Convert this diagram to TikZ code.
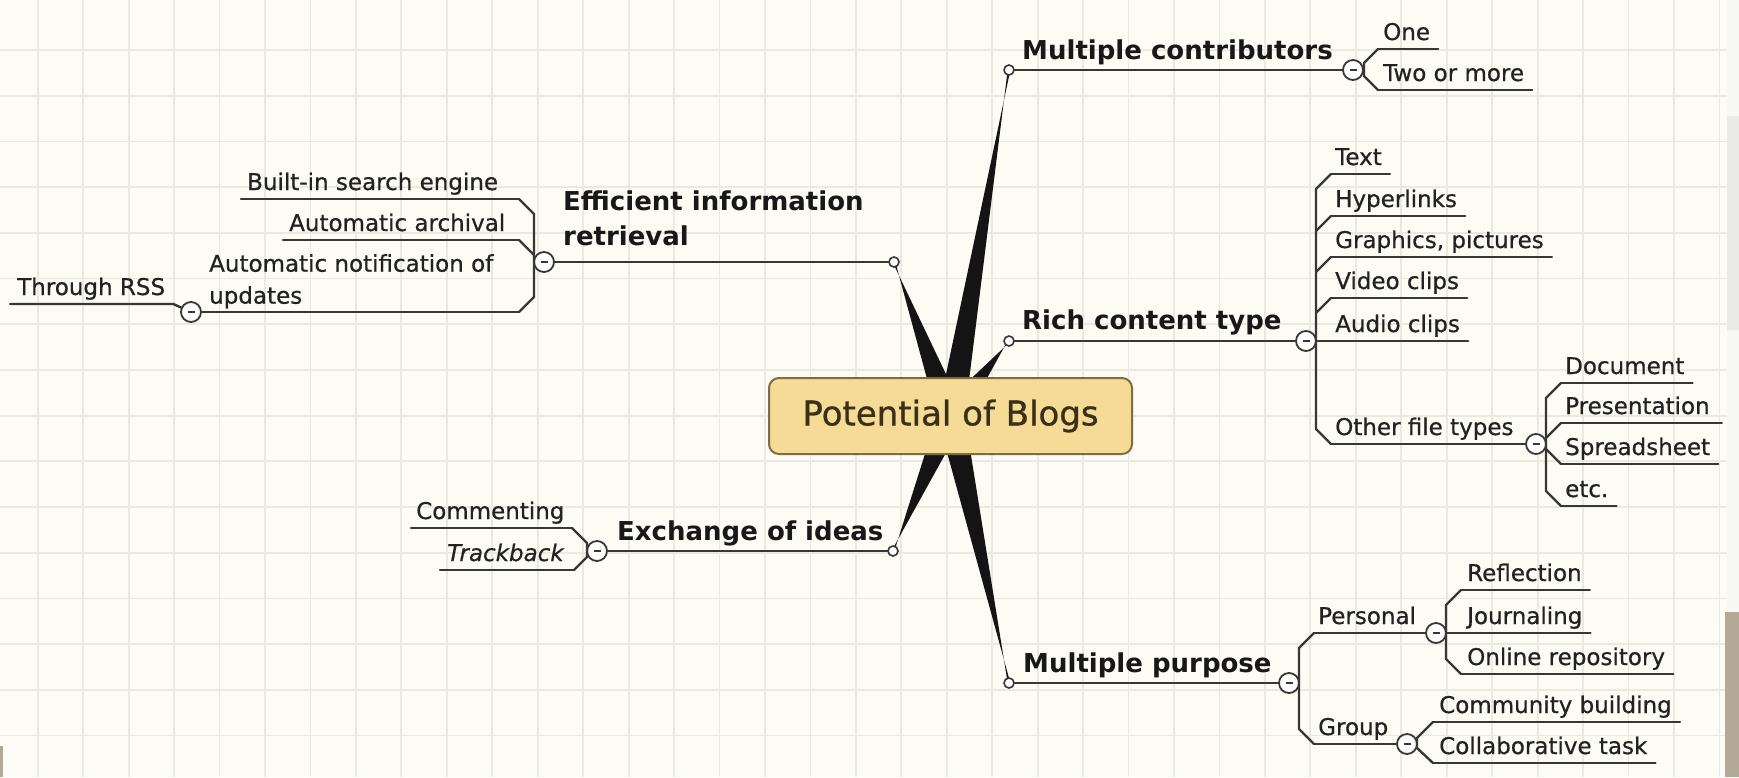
\documentclass[tikz,border=0pt]{standalone}
\usepackage{fontspec}
\setmainfont{DejaVu Sans}
\newfontfamily\leaffont[FakeBold=0.6]{DejaVu Sans}
\newfontfamily\rootfont[FakeBold=0.9]{DejaVu Sans}
\usetikzlibrary{calc}
\definecolor{bgc}{RGB}{252,251,244}
\definecolor{gridc}{RGB}{234,233,225}
\definecolor{linec}{RGB}{55,55,53}
\definecolor{txtc}{RGB}{24,24,24}
\definecolor{leafc}{RGB}{34,34,34}
\definecolor{boxfill}{RGB}{246,219,150}
\definecolor{boxdraw}{RGB}{125,108,70}
\definecolor{boxtxt}{RGB}{58,48,26}
\definecolor{taupe}{RGB}{180,168,150}
\definecolor{edgec}{RGB}{247,247,245}
\definecolor{edgecb}{RGB}{234,234,232}
\begin{document}
\begin{tikzpicture}[x=1pt,y=-1pt,
  conn/.style={draw=linec, line width=2.4pt, line join=round, line cap=round},
  wedge/.style={fill=black!92},
  dot/.style={circle, draw=linec, fill=white, line width=1.6pt, minimum size=10pt, inner sep=0pt},
  fold/.style={circle, draw=linec, fill=white, line width=1.8pt, minimum size=20pt, inner sep=0pt,
    path picture={\draw[linec, line width=1.8pt] ([xshift=-3.5pt]path picture bounding box.center) -- ([xshift=3.5pt]path picture bounding box.center);}},
  titlenode/.style={font=\fontsize{26}{35}\selectfont\bfseries, text=txtc, inner sep=0pt, anchor=base west},
  leaf/.style={font=\leaffont\fontsize{23}{32}\selectfont, text=leafc, inner sep=0pt, anchor=base west},
]
\useasboundingbox (0,0) rectangle (1739,777);
\fill[bgc] (0,0) rectangle (1739,777);
\foreach \i in {1,...,38} \draw[gridc, line width=1.8pt] ({-7.7+45.45*\i},0) -- ({-7.7+45.45*\i},777);
\foreach \j in {1,...,16} \draw[gridc, line width=1.8pt] (0,{4.3+45.7*\j}) -- (1727,{4.3+45.7*\j});

% wedges
\coordinate (ctr) at (951,416);
\coordinate (pMC) at (1009,70);
\coordinate (pRC) at (1009,341);
\coordinate (pEI) at (894,262);
\coordinate (pEX) at (893,551);
\coordinate (pMP) at (1009,683);
\foreach \t in {pMC,pRC,pEI,pEX,pMP}
  \fill[wedge] ($(ctr)!13.5pt!90:(\t)$) -- ($(\t)!1.3pt!90:(ctr)$) -- ($(\t)!1.3pt!-90:(ctr)$) -- ($(ctr)!13.5pt!-90:(\t)$) -- cycle;

\node[draw=boxdraw, fill=boxfill, line width=2pt, rounded corners=10pt, minimum width=363pt, minimum height=76pt, inner sep=0pt, font=\rootfont\fontsize{34}{40}\selectfont, text=boxtxt] (root) at (950.5,416) {Potential of Blogs};

\node[dot] (dMC) at (pMC) {};
\node[dot] (dRC) at (pRC) {};
\node[dot] (dEI) at (pEI) {};
\node[dot] (dEX) at (pEX) {};
\node[dot] (dMP) at (pMP) {};

% Multiple contributors
\node[titlenode] (tMC) at (1022,59.5) {Multiple contributors};
\node[fold] (fMC) at (1353,70) {};
\draw[conn] (dMC) -- (fMC);
\node[leaf] (lOne) at (1383,40) {One};
\node[leaf] (lTwo) at (1383,81) {Two or more};
\coordinate (uOne) at (1378,49);
\coordinate (uTwo) at (1378,90);
\draw[conn] (uOne) -- ($(lOne.east |- uOne)+(8,0)$);
\draw[conn] (uTwo) -- ($(lTwo.east |- uTwo)+(8,0)$);
\draw[conn] (uOne) -- (1364,63) -- (1364,76) -- (uTwo);

% Rich content type
\node[titlenode] (tRC) at (1022,329) {Rich content type};
\node[fold] (fRC) at (1306,341) {};
\draw[conn] (dRC) -- (fRC);
\node[leaf] (lTxt) at (1335,165) {Text};
\node[leaf] (lHyp) at (1335,207) {Hyperlinks};
\node[leaf] (lGra) at (1335,248) {Graphics, pictures};
\node[leaf] (lVid) at (1335,289) {Video clips};
\node[leaf] (lAud) at (1335,332) {Audio clips};
\node[leaf] (lOth) at (1335,435) {Other file types};
\coordinate (uTxt) at (1331,174);
\coordinate (uHyp) at (1331,216);
\coordinate (uGra) at (1331,257);
\coordinate (uVid) at (1331,298);
\coordinate (uAud) at (1331,341);
\coordinate (uOth) at (1331,444);
\foreach \n in {Txt,Hyp,Gra,Vid,Aud}
  \draw[conn] (u\n) -- ($(l\n.east |- u\n)+(8,0)$);
\draw[conn] (uTxt) -- (1316,189) -- (1316,429) -- (uOth);
\draw[conn] (uHyp) -- (1316,231);
\draw[conn] (uGra) -- (1316,272);
\draw[conn] (uVid) -- (1316,313);
\draw[conn] (fRC) -- (uAud);
\node[fold] (fOF) at (1536,444) {};
\draw[conn] (uOth) -- (fOF);
\node[leaf] (lDoc) at (1565,374) {Document};
\node[leaf] (lPre) at (1565,414) {Presentation};
\node[leaf] (lSpr) at (1565,455) {Spreadsheet};
\node[leaf] (lEtc) at (1565,497) {etc.};
\coordinate (uDoc) at (1561,383);
\coordinate (uPre) at (1561,423);
\coordinate (uSpr) at (1561,464);
\coordinate (uEtc) at (1561,506);
\foreach \n in {Doc,Spr,Etc}
  \draw[conn] (u\n) -- ($(l\n.east |- u\n)+(8,0)$);
\draw[conn] (uPre) -- ($(lPre.east |- uPre)+(12,0)$);
\draw[conn] (uDoc) -- (1546,398) -- (1546,491) -- (uEtc);
\draw[conn] (uPre) -- (1546,438);
\draw[conn] (uSpr) -- (1546,449);

% Multiple purpose
\node[titlenode] (tMP) at (1023,672) {Multiple purpose};
\node[fold] (fMP) at (1289,683) {};
\draw[conn] (dMP) -- (fMP);
\node[leaf] (lPer) at (1318,624) {Personal};
\node[leaf] (lGro) at (1318,735) {Group};
\coordinate (uPer) at (1314,633);
\coordinate (uGro) at (1314,744);
\node[fold] (fPe) at (1436,633) {};
\node[fold] (fGr) at (1407,744) {};
\draw[conn] (uPer) -- (fPe);
\draw[conn] (uGro) -- (fGr);
\draw[conn] (uPer) -- (1299,648) -- (1299,729) -- (uGro);
\node[leaf] (lRef) at (1467,581) {Reflection};
\node[leaf] (lJou) at (1467,624) {Journaling};
\node[leaf] (lOnl) at (1467,665) {Online repository};
\coordinate (uRef) at (1461,590);
\coordinate (uJou) at (1461,633);
\coordinate (uOnl) at (1461,674);
\foreach \n in {Ref,Jou,Onl}
  \draw[conn] (u\n) -- ($(l\n.east |- u\n)+(8,0)$);
\draw[conn] (uRef) -- (1446,605) -- (1446,659) -- (uOnl);
\draw[conn] (fPe) -- (uJou);
\node[leaf] (lCom) at (1439,713) {Community building};
\node[leaf] (lCol) at (1439,754) {Collaborative task};
\coordinate (uCom) at (1433,722);
\coordinate (uCol) at (1433,763);
\foreach \n in {Com,Col}
  \draw[conn] (u\n) -- ($(l\n.east |- u\n)+(8,0)$);
\draw[conn] (uCom) -- (1417,738) -- (1417,748) -- (uCol);

% Efficient information retrieval
\node[titlenode, anchor=north west, align=left] (tEI) at (563,191) {Efficient information\\retrieval};
\node[fold] (fEI) at (544,262) {};
\draw[conn] (dEI) -- (fEI);
\node[leaf] (lBui) at (247,190) {Built-in search engine};
\node[leaf] (lArc) at (289,231) {Automatic archival};
\node[leaf, anchor=north west, align=left] (lNot) at (209,254) {Automatic notification of\\updates};
\coordinate (uBui) at (519,199);
\coordinate (uArc) at (519,240);
\coordinate (uNot) at (519,312);
\draw[conn] ($(lBui.west |- uBui)+(-6,0)$) -- (uBui);
\draw[conn] ($(lArc.west |- uArc)+(-6,0)$) -- (uArc);
\node[fold] (fNo) at (191,312) {};
\draw[conn] (fNo) -- (uNot);
\draw[conn] (uBui) -- (534,214) -- (534,297) -- (uNot);
\draw[conn] (uArc) -- (534,255);
\node[leaf] (lRSS) at (17,295) {Through RSS};
\coordinate (uRSS) at (10,304);
\draw[conn] (uRSS) -- ($(lRSS.east |- uRSS)+(8,0)$) -- (fNo);

% Exchange of ideas
\node[titlenode] (tEX) at (617,540) {Exchange of ideas};
\node[fold] (fEX) at (597,551) {};
\draw[conn] (dEX) -- (fEX);
\node[leaf] (lCmt) at (416,519) {Commenting};
\node[leaf, font=\leaffont\fontsize{23}{32}\selectfont\itshape] (lTra) at (447,561) {Trackback};
\coordinate (uCmt) at (572,528);
\coordinate (uTra) at (574,570);
\draw[conn] ($(lCmt.west |- uCmt)+(-5,0)$) -- (uCmt);
\draw[conn] ($(lTra.west |- uTra)+(-7,0)$) -- (uTra);
\draw[conn] (uCmt) -- (587,543) -- (587,557) -- (uTra);

% screenshot edges
\fill[edgec] (1727,0) rectangle (1739,777);
\fill[edgecb] (1727,116) rectangle (1739,330);
\fill[taupe] (1725,612) rectangle (1739,777);
\fill[taupe] (0,746) rectangle (3,777);
\end{tikzpicture}
\end{document}
